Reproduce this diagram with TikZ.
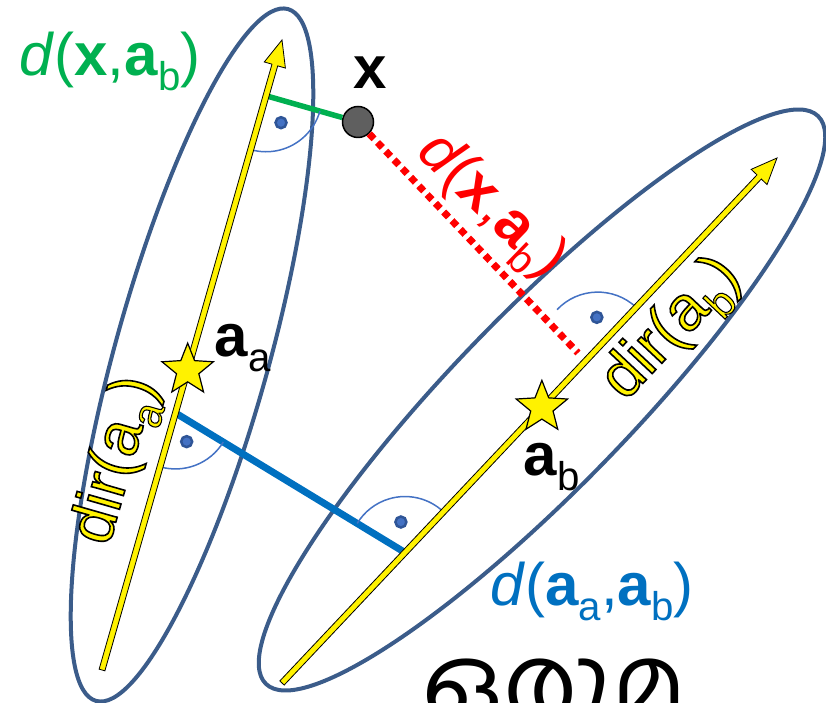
\documentclass[tikz,border=0pt]{standalone}
\usepackage{fontspec}
\setmainfont{Liberation Sans}
\newfontfamily\mlfont[Script=Malayalam]{Hind Kochi}
\usepackage{graphicx}
\usetikzlibrary{calc,angles,shapes.geometric}
\definecolor{elblue}{RGB}{59,92,138}
\definecolor{arcblue}{RGB}{68,114,196}
\definecolor{dotblue}{RGB}{47,85,151}
\definecolor{mgreen}{RGB}{0,176,80}
\definecolor{lblue}{RGB}{0,112,192}
\definecolor{xgray}{RGB}{95,95,95}
\newcommand{\subtx}[1]{\raisebox{-0.25em}{\scalebox{0.67}{#1}}}
\newcommand{\olon}{\special{pdf:code 0 0 0 RG 2 Tr 1.6 w}}
\newcommand{\oloff}{\special{pdf:code 0 Tr}}
\newcommand{\dirtext}[1]{{\color{yellow}\olon dir(a\subtx{\olon #1}\olon)\oloff}}
\newcommand{\dirvector}[2]{\draw[dirvec] let \p1=($(#2)-(#1)$), \n1={atan2(\y1,\x1)}, \n2={veclen(\x1,\y1)} in ($(#1)+(\n1-90:3)$) -- ++(\n1:\n2-26) -- ++(\n1-90:8) -- (#2) -- ($(#2)+(\n1+180:26)+(\n1+90:11)$) -- ++(\n1-90:8) -- ($(#1)+(\n1+90:3)$) -- cycle;}

\begin{document}
\begin{tikzpicture}[x=1pt,y=1pt, ell/.style={draw=elblue,line width=4pt}, dirvec/.style={fill=yellow,draw=black,line width=0.8pt}, rtarc/.style={draw=arcblue,line width=1.5pt,angle radius=56pt,angle eccentricity=0.55,pic text={},pic text options={circle,fill=arcblue,draw=dotblue,line width=2.5pt,inner sep=0pt,minimum size=11pt}}, anchorstar/.style={star,star points=5,star point ratio=2.3,fill=yellow,draw=black,line width=1.2pt,minimum size=54pt,inner sep=0pt}, lbl/.style={font=\fontsize{60}{72}\selectfont}]
\useasboundingbox (0,0) rectangle (826,703);
\clip (0,0) rectangle (826,703);
\draw[ell, rotate around={74.5:(192,348)}] (192,348) ellipse [x radius=359pt, y radius=77pt];
\draw[ell, rotate around={45.8:(542,303)}] (542,303) ellipse [x radius=396pt, y radius=88pt];
\coordinate (la) at (102,33);
\coordinate (lb) at (282,663);
\coordinate (ra) at (282,20);
\coordinate (rb) at (777,545);
\node[circle,draw=black,fill=xgray,line width=1.5pt,minimum size=31pt,inner sep=0pt] (X) at (358,581) {};
\coordinate (f1) at ($(la)!(X)!(lb)$);
\coordinate (f2) at ($(ra)!(X)!(rb)$);
\coordinate (re) at (578,350);
\coordinate (lf) at ($(la)!0.408!(lb)$);
\coordinate (rf) at ($(ra)!0.2485!(rb)$);
\draw[lblue, line width=7pt] (lf) -- (rf);
\draw[mgreen, line width=5.5pt] (f1) -- (X);
\draw[red, line width=7pt, dash pattern=on 7pt off 5pt] (X) -- (re);
\pic[rtarc] {angle=la--f1--X};
\pic[rtarc] {angle=rb--f2--X};
\pic[rtarc] {angle=la--lf--rf};
\pic[rtarc] {angle=rb--rf--lf};
\dirvector{la}{lb}
\dirvector{ra}{rb}
\node[anchorstar] (sa) at ($(la)!0.476!(lb)$) {};
\node[anchorstar] (sb) at ($(ra)!0.525!(rb)$) {};
\node[lbl, text=mgreen] (dxa) at (110,642) {\textit{d}(\textbf{x},\textbf{a}\subtx{b})};
\node[lbl, text=red, rotate=-44] (dxb) at (490,496) {\textit{d}(\textbf{x},\textbf{a}\subtx{b})};
\node[lbl, text=lblue] (daa) at (592,112) {\textit{d}(\textbf{a}\subtx{a},\textbf{a}\subtx{b})};
\node[lbl] (xl) at (370,630) {\textbf{x}};
\node[lbl] (aal) at (243,355) {\textbf{a}\subtx{a}};
\node[lbl] (abl) at (552,236) {\textbf{a}\subtx{b}};
\node[lbl, font=\fontsize{63}{72}\selectfont, rotate=74] (dira) at (118,242) {\dirtext{a}};
\node[lbl, font=\fontsize{63}{72}\selectfont, rotate=46.7] (dirb) at (673,373) {\dirtext{b}};
\node[font=\mlfont\fontsize{100}{110}\selectfont, anchor=north west, inner sep=0pt] (sig) at (422,44) {ഒരുമ};
\end{tikzpicture}
\end{document}
